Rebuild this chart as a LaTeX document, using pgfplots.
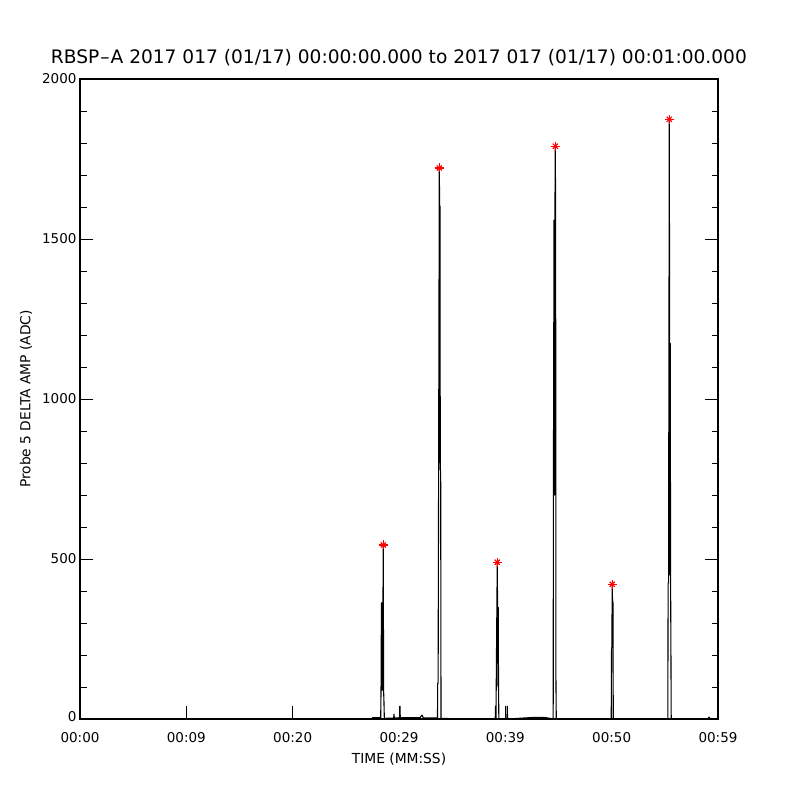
\documentclass[border=0pt]{standalone}
\usepackage{pgfplots}
\pgfplotsset{compat=1.18}
\usepackage{fontspec}
\setmainfont{DejaVu Sans}
\begin{document}
\begin{tikzpicture}[x=1pt,y=1pt]
\path[use as bounding box] (0,0) rectangle (800,800);
\begin{axis}[
  at={(80pt,81pt)}, anchor=south west,
  scale only axis, width=638pt, height=640pt,
  xmin=0, xmax=60, ymin=0, ymax=2000,
  xtick={0,10,20,30,40,50,60},
  xticklabels={00:00,00:09,00:20,00:29,00:39,00:50,00:59},
  ytick={0,500,1000,1500,2000},
  yticklabels={\raisebox{6pt}{0},500,1000,1500,\raisebox{-7pt}{2000}},
  minor ytick={100,200,300,400,600,700,800,900,1100,1200,1300,1400,1600,1700,1800,1900},
  tick align=inside,
  xtick pos=left, ytick pos=both,
  major tick length=13pt, minor tick length=6.5pt,
  every tick/.style={black, line width=0.9pt},
  axis line style={line width=1.2pt},
  /pgf/number format/assume math mode=true,
  ticklabel style={font=\fontsize{13.5}{16}\selectfont},
  xticklabel style={yshift=-10pt},
  title={RBSP\kern1pt--\kern1pt A 2017 017 (01/17) 00:00:00.000 to 2017 017 (01/17) 00:01:00.000},
  title style={font=\fontsize{18.6}{22}\selectfont, anchor=base, at={(axis description cs:0.5,1)}, yshift=9pt},
  xlabel={TIME (MM:SS)},
  xlabel style={font=\fontsize{13.8}{16}\selectfont, at={(axis description cs:0.5,-0.0625)}, anchor=center},
  ylabel={Probe 5 DELTA AMP (ADC)},
  ylabel style={font=\fontsize{13.8}{16}\selectfont, at={(axis description cs:-0.0846,0.5)}, anchor=center},
  clip=false,
]
\addplot[black, line width=1.1pt, line join=round, mark=none] table {
x y
27.46 4
28.00 4
28.28 4
28.31 90
28.35 363
28.38 90
28.42 363
28.45 90
28.52 544
28.55 90
28.58 62
28.62 2
29.50 3
29.53 15
29.56 3
30.06 4
30.09 40
30.12 4
31.97 4
32.16 12
32.30 3
33.48 3
33.62 3
33.64 112
33.68 112
33.79 1722
33.82 1603
33.84 800
33.86 1603
33.88 778
33.92 778
33.95 2
35.00 1
39.05 0
39.08 40
39.12 4
39.24 490
39.27 349
39.30 103
39.33 349
39.36 103
39.39 0
40.15 0
40.18 40
40.21 0
42.70 5
43.70 5
44.50 0
44.52 700
44.58 1559
44.62 700
44.66 1559
44.70 1790
44.73 1559
44.76 117
44.79 0
49.96 0
49.99 223
50.02 223
50.05 421
50.08 369
50.10 223
50.12 369
50.15 0
55.28 0
55.31 425
55.35 425
55.42 1874
55.45 1174
55.48 450
55.51 1174
55.54 450
55.57 237
55.60 0
59.06 0
59.15 6
59.30 0
59.90 0
};
\addplot[only marks, red, mark=+, mark size=4.5pt, line width=1.2pt] table {
x y
28.52 544
33.79 1722
39.24 490
44.70 1790
50.05 421
55.42 1874
};
\addplot[only marks, red, mark=x, mark size=3.6pt, line width=1.2pt] table {
x y
28.52 544
33.79 1722
39.24 490
44.70 1790
50.05 421
55.42 1874
};
\end{axis}
\end{tikzpicture}
\end{document}
